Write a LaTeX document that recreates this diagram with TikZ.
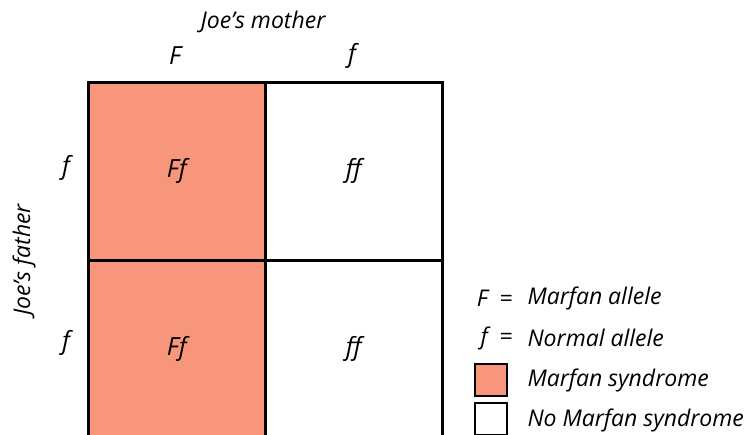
\documentclass[tikz,border=0pt]{standalone}
\usepackage{fontspec}
\setmainfont{Open Sans}
\usepackage{tikz}

\definecolor{marfan}{RGB}{247,150,122}

\begin{document}
\begin{tikzpicture}[x=1pt, y=-1pt,
	cell/.style={rectangle, draw=black, line width=2.6pt, minimum width=177pt, minimum height=178pt, anchor=north west},
	allele/.style={font=\itshape\fontsize{25}{28}\selectfont},
	geno/.style={font=\itshape\fontsize{25}{28}\selectfont},
	label/.style={font=\itshape\fontsize{23}{26}\selectfont},
	key/.style={font=\itshape\fontsize{23}{26}\selectfont, anchor=west},
	keybox/.style={rectangle, draw=black, line width=1.8pt, minimum size=32pt, anchor=north west},
	]
	\useasboundingbox (0, 0) rectangle (745, 435);
	
	\node[cell, fill=marfan] at (87, 81) (FfA) {};
	\node[cell, fill=white] at (264, 81) (ffA) {};
	\node[cell, fill=marfan] at (87, 259) (FfB) {};
	\node[cell, fill=white] at (264, 259) (ffB) {};
	
	\node[geno] at (FfA.center) (FfAlab) {Ff};
	\node[geno] at (ffA.center) (ffAlab) {ff};
	\node[geno] at (FfB.center) (FfBlab) {Ff};
	\node[geno] at (ffB.center) (ffBlab) {ff};
	
	\node[label] at (263, 22) (mother) {Joe’s mother};
	\node[allele] at (175, 56) (momF) {F};
	\node[allele] at (352, 56) (momf) {f};
	
	\node[label, rotate=90] at (24, 260) (father) {Joe’s father};
	\node[allele] at (66, 168) (dadA) {f};
	\node[allele] at (66, 343) (dadB) {f};
	
	\node[key, anchor=east] at (516, 298) (keyF) {F\enspace=};
	\node[key, anchor=east] at (516, 338) (keyf) {f\enspace=};
	\node[key] at (524, 298) (keyFtext) {Marfan allele};
	\node[key] at (524, 338) (keyftext) {Normal allele};
	\node[keybox, fill=marfan] at (474, 363) (boxM) {};
	\node[keybox, fill=white] at (474, 402) (boxN) {};
	\node[key] at (524, 380) (boxMtext) {Marfan syndrome};
	\node[key] at (524, 420) (boxNtext) {No Marfan syndrome};
\end{tikzpicture}
\end{document}
